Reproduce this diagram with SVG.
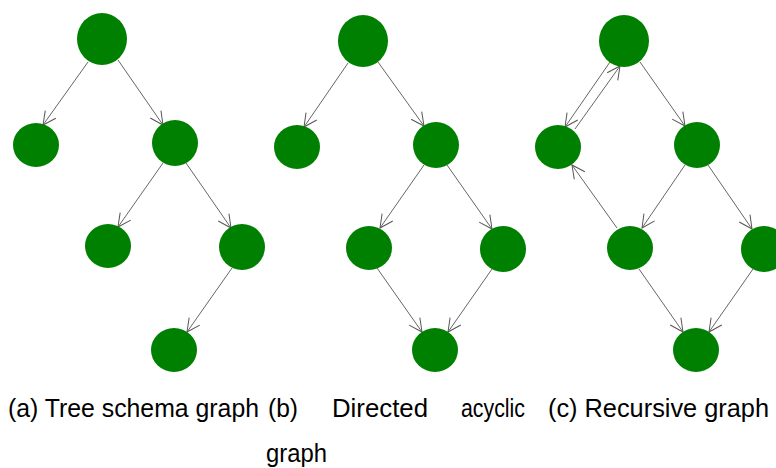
<svg xmlns="http://www.w3.org/2000/svg" width="776" height="468" viewBox="0 0 776 468">
<defs>
<style>
.n{fill:#008000}
.e{stroke:#666;stroke-width:1;fill:none;marker-end:url(#ah)}
.t{font-family:"Liberation Sans",Arial,sans-serif;font-size:26px;fill:#000}
</style>
<marker id="ah" markerUnits="userSpaceOnUse" orient="auto" overflow="visible" markerWidth="1" markerHeight="1">
<path d="M-13,-6.5 L0,0 L-13,6.5" fill="none" stroke="#555" stroke-width="1"/>
</marker>
</defs>
<rect width="776" height="468" fill="#fff"/>
<g id="connectors">
<!-- (a) -->
<line class="e" x1="88" y1="62" x2="43" y2="125"/>
<line class="e" x1="118" y1="60" x2="163" y2="125"/>
<line class="e" x1="163" y1="163" x2="118" y2="227"/>
<line class="e" x1="186" y1="163" x2="231" y2="228"/>
<line class="e" x1="232" y1="268" x2="187" y2="332"/>
<!-- (b) -->
<line class="e" x1="348" y1="63" x2="304" y2="127"/>
<line class="e" x1="378" y1="62" x2="424" y2="126"/>
<line class="e" x1="424" y1="165" x2="380" y2="228"/>
<line class="e" x1="447" y1="165" x2="492" y2="229"/>
<line class="e" x1="377" y1="268" x2="422" y2="332"/>
<line class="e" x1="492" y1="269" x2="448" y2="332"/>
<!-- (c) -->
<line class="e" x1="610" y1="62" x2="565" y2="127"/>
<line class="e" x1="575" y1="129" x2="620" y2="66"/>
<line class="e" x1="640" y1="62" x2="685" y2="126"/>
<line class="e" x1="685" y1="165" x2="642" y2="228"/>
<line class="e" x1="708" y1="165" x2="752" y2="229"/>
<line class="e" x1="639" y1="269" x2="683" y2="332"/>
<line class="e" x1="753" y1="269" x2="709" y2="332"/>
<line class="e" x1="617" y1="228" x2="572" y2="165"/>
</g>
<g id="a-root"><ellipse class="n" cx="102" cy="39" rx="25" ry="26"/></g>
<g id="a-l"><ellipse class="n" cx="36" cy="145" rx="23" ry="22"/></g>
<g id="a-r"><ellipse class="n" cx="175" cy="143" rx="23" ry="23"/></g>
<g id="a-rl"><ellipse class="n" cx="108" cy="246" rx="23" ry="22"/></g>
<g id="a-rr"><ellipse class="n" cx="242" cy="247" rx="23" ry="23"/></g>
<g id="a-rrl"><ellipse class="n" cx="174" cy="350" rx="23" ry="22"/></g>

<g id="b-root"><ellipse class="n" cx="363" cy="41" rx="25" ry="26"/></g>
<g id="b-l"><ellipse class="n" cx="297" cy="147" rx="23" ry="22"/></g>
<g id="b-r"><ellipse class="n" cx="436" cy="145" rx="23" ry="23"/></g>
<g id="b-rl"><ellipse class="n" cx="369" cy="248" rx="23" ry="22"/></g>
<g id="b-rr"><ellipse class="n" cx="503" cy="249" rx="23" ry="23"/></g>
<g id="b-bot"><ellipse class="n" cx="435" cy="350" rx="23" ry="22"/></g>

<g id="c-root"><ellipse class="n" cx="624" cy="41" rx="25" ry="26"/></g>
<g id="c-l"><ellipse class="n" cx="558" cy="147" rx="23" ry="22"/></g>
<g id="c-r"><ellipse class="n" cx="697" cy="145" rx="23" ry="23"/></g>
<g id="c-rl"><ellipse class="n" cx="630" cy="248" rx="23" ry="22"/></g>
<g id="c-rr"><ellipse class="n" cx="764" cy="249" rx="23" ry="23"/></g>
<g id="c-bot"><ellipse class="n" cx="696" cy="350" rx="23" ry="22"/></g>

<g id="captions">
<text class="t" x="8" y="417" textLength="251" lengthAdjust="spacingAndGlyphs">(a) Tree schema graph</text>
<text class="t" x="268" y="417" textLength="30" lengthAdjust="spacingAndGlyphs">(b)</text>
<text class="t" x="332" y="417" textLength="96" lengthAdjust="spacingAndGlyphs">Directed</text>
<text class="t" x="461" y="417" textLength="64" lengthAdjust="spacingAndGlyphs">acyclic</text>
<text class="t" x="266" y="462" textLength="61" lengthAdjust="spacingAndGlyphs">graph</text>
<text class="t" x="548" y="417" textLength="221" lengthAdjust="spacingAndGlyphs">(c) Recursive graph</text>
</g>
</svg>
